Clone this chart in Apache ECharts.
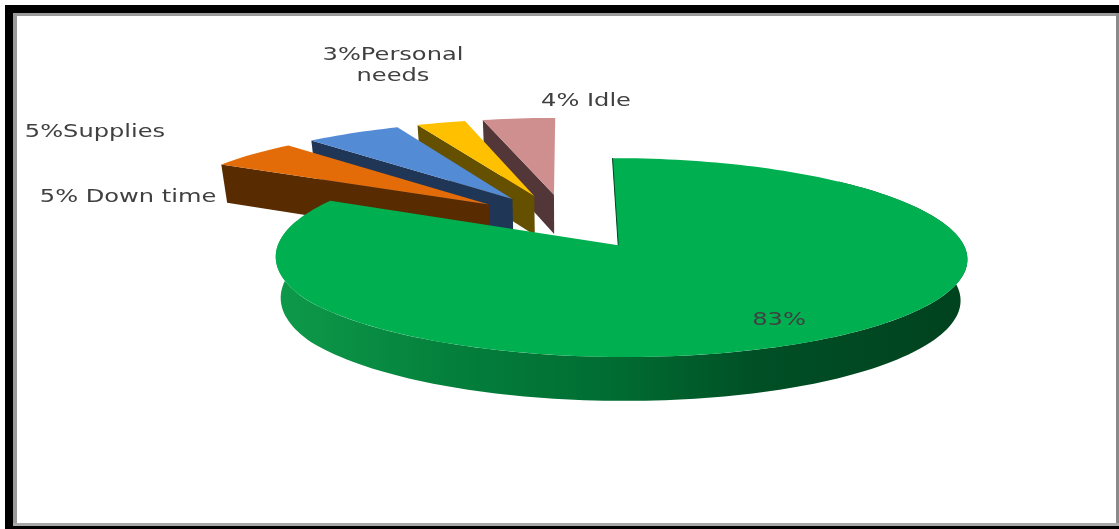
<!DOCTYPE html>
<html>
<head>
<meta charset="utf-8">
<style>html,body{margin:0;padding:0;background:#fff}#c{width:1119px;height:529px}</style>
<script src="https://cdn.jsdelivr.net/npm/echarts@6/dist/echarts.min.js"></script>
</head>
<body>
<div id="c"></div>
<script>
// Data, listed counter-clockwise from 12 o'clock (back slice first, so nearer slices paint over it)
var categories = ['Idle', 'Personal needs', 'Supplies', 'Down time', 'Other'];
var values = [4, 2.7, 5.3, 5, 83];
var labelTexts = ['4% Idle', '3%Personal\nneeds', '5%Supplies', '5% Down time', '83%'];

// Appearance and layout
var topColors = ['#CF8F8F', '#FFC000', '#538BD5', '#E36C09', '#00B050'];
var sideColors = ['#533637', '#655000', '#1F3657', '#592B00', '#00401F'];
var labelBoxes = [[586, 101], [393, 66], [95, 132], [128, 197], [779, 320]];
var CX = 566, CY = 221, A0 = 335, B0 = 92, K = 0.12, EXPLODE = 0.297;
var DEPTH = 40, DEPTH_K = 0.07, SHRINK = 0.983, TEXT_STRETCH = 1.34;
var RAD = Math.PI / 180;

function project(X, Y, lower) {
  var w = 1 + K * Y;
  var x = CX + A0 * X / w;
  var y = CY - B0 * Y / w;
  if (lower) {
    x = CX + (x - CX) * SHRINK;
    y += DEPTH / (1 + DEPTH_K * Y);
  }
  return [x, y];
}

function sliceRange(idx) {
  var total = values.reduce(function (a, b) { return a + b; }, 0);
  var before = 0;
  for (var i = 0; i < idx; i++) before += values[i];
  var end = 360 - before / total * 360;
  var start = end - values[idx] / total * 360;
  return [start, end];
}

function renderSlice(params, api) {
  var idx = params.dataIndex;
  api.value(0);
  var r = sliceRange(idx), t0 = r[0], t1 = r[1];
  var mid = (t0 + t1) / 2 * RAD;
  var ox = EXPLODE * Math.sin(mid), oy = EXPLODE * Math.cos(mid);
  var isMain = t1 - t0 > 180;
  function rim(deg, lower) {
    var s = Math.sin(deg * RAD);
    // the reference's large slice is slightly flattened at its far-left edge
    if (isMain && s < -0.85) s *= 1 - 0.015 * (-s - 0.85) / 0.15;
    return project(ox + s, oy + Math.cos(deg * RAD), lower);
  }
  var apexTop = project(ox, oy, false), apexLow = project(ox, oy, true);
  var topPts = [apexTop];
  var n = Math.ceil((t1 - t0) / 1.5), i;
  for (i = 0; i <= n; i++) topPts.push(rim(t0 + (t1 - t0) * i / n, false));
  var children = [];
  if (isMain) {
    // outer wall: only its front part can show, the rest lies under the top face
    var upper = [], lowerPts = [];
    for (var d = 45; d <= 285; d += 1.5) {
      upper.push(rim(d, false));
      lowerPts.unshift(rim(d, true));
    }
    children.push({
      type: 'polygon', shape: { points: upper.concat(lowerPts) },
      style: { fill: { type: 'linear', x: 0, y: 0, x2: 1, y2: 0, colorStops: [
        { offset: 0, color: '#0E9A4A' }, { offset: 0.25, color: '#04803C' },
        { offset: 0.5, color: '#006B31' }, { offset: 0.7, color: '#004F25' },
        { offset: 1, color: '#00421E' }] } }
    });
  } else {
    children.push({
      type: 'polygon', shape: { points: [apexTop, rim(t0, false), rim(t0, true), apexLow] },
      style: { fill: sideColors[idx] }
    });
  }
  children.push({ type: 'polygon', shape: { points: topPts }, style: { fill: topColors[idx] } });
  if (isMain) {
    // the inner wall at 12 o'clock is seen nearly edge-on, as a hairline
    var e = rim(t0, false);
    children.push({
      type: 'line', shape: { x1: apexTop[0], y1: apexTop[1], x2: e[0], y2: e[1] },
      style: { stroke: sideColors[idx], lineWidth: 1 }
    });
  }
  return { type: 'group', children: children };
}

var textGraphics = labelTexts.map(function (t, i) {
  return {
    type: 'text', x: labelBoxes[i][0], y: labelBoxes[i][1], z: 20, scaleX: TEXT_STRETCH,
    style: {
      text: t, fill: '#404040', font: '18px "DejaVu Sans"', align: 'center',
      verticalAlign: 'middle', lineHeight: 21
    }
  };
});

var frame = [
  [5, 5, 1114, 8, '#000'], [5, 5, 8, 524, '#000'], [13, 13, 1106, 3, '#9a9a9a'],
  [13, 13, 4, 510, '#9a9a9a'], [1116, 13, 3, 513, '#8a8a8a'], [13, 523, 1106, 3, '#a8a8a8'],
  [13, 526, 1106, 3, '#000']
].map(function (f) {
  return { type: 'rect', z: 0, shape: { x: f[0], y: f[1], width: f[2], height: f[3] }, style: { fill: f[4] }, silent: true };
});

var chart = echarts.init(document.getElementById('c'), null, { renderer: 'canvas' });
chart.setOption({
  backgroundColor: '#ffffff',
  animation: false,
  graphic: frame.concat(textGraphics),
  series: [{
    type: 'custom', coordinateSystem: 'none', silent: true, z: 5,
    data: values.map(function (v, i) { return { name: categories[i], value: v }; }),
    renderItem: renderSlice
  }]
});
</script>
</body>
</html>
